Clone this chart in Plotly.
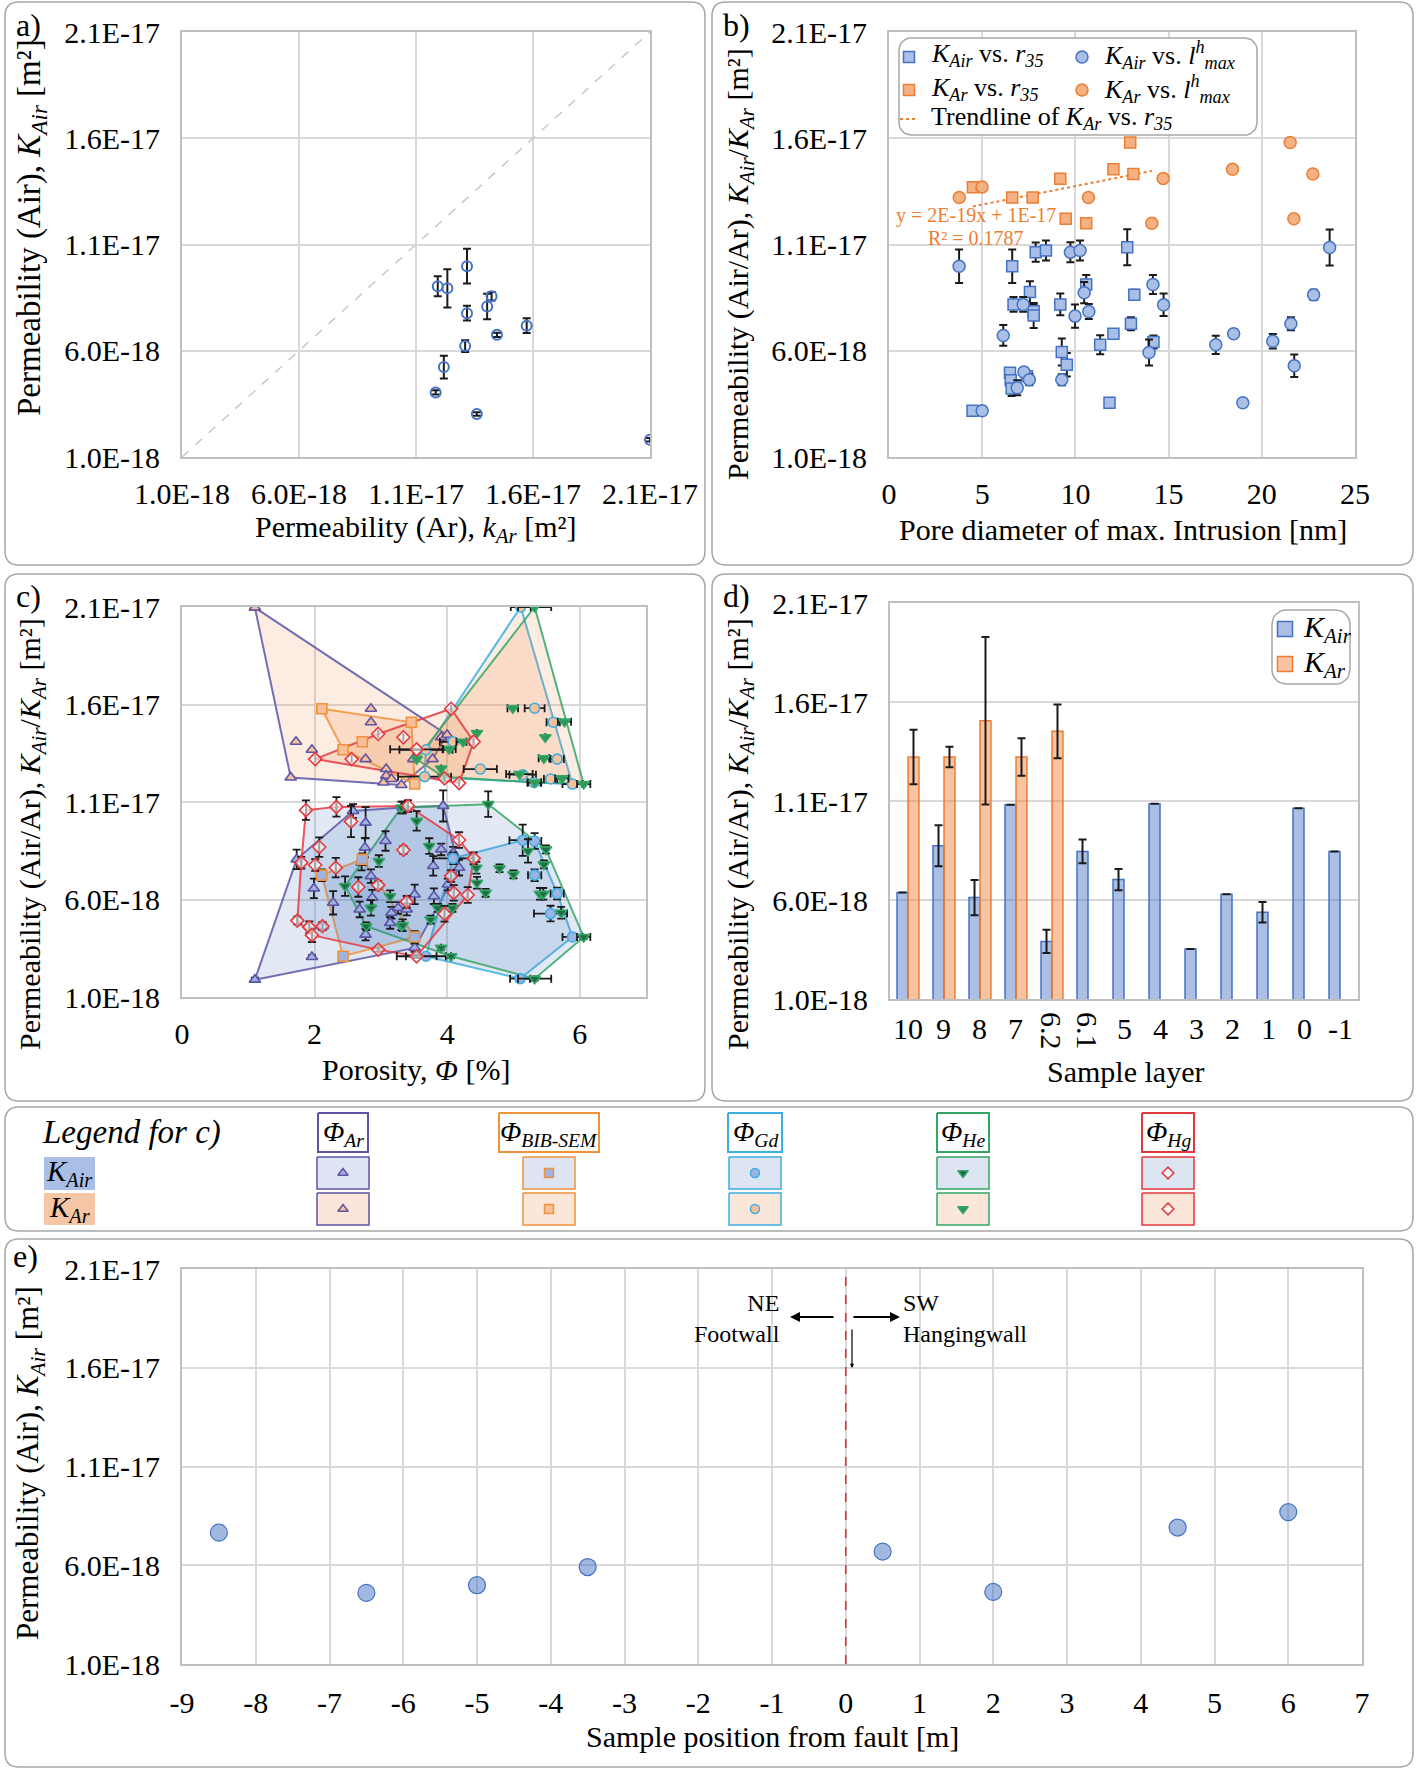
import numpy as np
import plotly.graph_objects as go

W, H = 1416, 1770
SERIF = "Liberation Serif"
BLUE = "#4472C4"
ORANGE = "#ED7D31"
BLUE_FILL = "#A9BFE5"
ORANGE_FILL = "#F4B183"
GRID = "#D9D9D9"
FRAME = "#BFBFBF"
ERRC = "#1A1A1A"
TICK = 30

# ---------------- DATA (permeability values in units of 1E-18 m²) ----------------
Y_TICKS = [1, 6, 11, 16, 21]
Y_TICKTEXT = ["1.0E-18", "6.0E-18", "1.1E-17", "1.6E-17", "2.1E-17"]

# a) K_Air vs k_Ar
a_kar = [11.93, 12.34, 13.18, 13.18, 14.04, 14.23, 14.46, 15.73, 13.10, 12.19, 11.84, 13.60, 21.0]
a_kair = [9.03, 8.94, 9.98, 7.77, 8.08, 8.56, 6.75, 7.18, 6.22, 5.23, 4.04, 3.02, 1.81]
a_err = [0.47, 0.90, 0.82, 0.35, 0.60, 0.20, 0.10, 0.35, 0.28, 0.54, 0.10, 0.08, 0.08]

# b) permeability vs pore diameter
b_air_r35_x = [6.61, 7.87, 8.42, 12.78, 7.56, 10.58, 6.68, 7.76, 7.76, 9.19, 12.98, 13.16, 12.04,
               11.33, 9.27, 9.54, 6.49, 6.53, 6.58, 7.40, 4.48, 11.83, 14.19]
b_air_r35_y = [9.98, 10.64, 10.72, 10.87, 8.76, 9.12, 8.18, 7.86, 7.66, 8.18, 7.27, 8.63, 6.80,
               6.28, 5.94, 5.34, 4.97, 4.61, 4.22, 4.80, 3.18, 3.55, 6.41]
b_air_r35_err = [0.79, 0.45, 0.47, 0.85, 0.51, 0.45, 0.35, 0.30, 0.59, 0.51, 0.31, 0.24, 0.10,
                 0.45, 0.64, 0.55, 0.20, 0.20, 0.35, 0.20, 0.10, 0.10, 0.31]
b_air_lmax_x = [3.76, 9.73, 10.25, 10.47, 7.20, 9.98, 10.72, 6.13, 9.27, 6.88, 7.24, 7.53, 5.00,
                14.16, 14.73, 13.95, 17.53, 18.49, 18.98, 20.59, 21.56, 21.74, 22.78, 23.64]
b_air_lmax_y = [9.98, 10.64, 10.72, 8.73, 8.18, 7.63, 7.85, 6.72, 4.64, 4.26, 5.00, 4.64, 3.18,
                9.12, 8.16, 5.92, 6.28, 6.80, 3.55, 6.45, 7.27, 5.29, 8.63, 10.86]
b_air_lmax_err = [0.79, 0.47, 0.47, 0.50, 0.35, 0.55, 0.35, 0.49, 0.26, 0.35, 0.20, 0.26, 0.10,
                  0.45, 0.53, 0.61, 0.43, 0.20, 0.10, 0.34, 0.31, 0.53, 0.24, 0.85]
b_ar_r35_x = [4.50, 6.61, 7.71, 9.19, 9.48, 10.58, 12.04, 12.94, 13.11]
b_ar_r35_y = [13.69, 13.21, 13.21, 14.09, 12.21, 12.00, 14.54, 15.80, 14.32]
b_ar_lmax_x = [3.77, 4.99, 10.70, 14.10, 14.71, 18.43, 21.52, 21.72, 22.74]
b_ar_lmax_y = [13.21, 13.71, 13.21, 12.00, 14.11, 14.54, 15.80, 12.21, 14.32]

# c) permeability vs porosity, per porosity method
c_ar_air_phi = [1.10, 1.96, 1.73, 1.99, 2.12, 2.28, 2.58, 2.77, 2.76, 2.71, 2.85, 2.68, 2.87, 2.77, 3.07,
                3.16, 3.14, 3.26, 3.39, 3.33, 3.51, 3.51, 3.94, 3.91, 3.79, 4.18, 4.09, 3.80, 4.01]
c_ar_air_k = [1.89, 3.05, 8.06, 6.57, 4.63, 5.83, 10.54, 9.94, 8.66, 7.89, 7.20, 5.49, 6.09, 4.20, 9.00,
              5.32, 4.80, 5.57, 5.49, 10.72, 6.26, 3.52, 10.80, 8.57, 7.72, 7.63, 8.40, 6.17, 6.77]
c_ar_air_err = [0.10, 0.10, 0.50, 0.50, 0.20, 0.60, 0.35, 0.80, 0.50, 0.40, 0.35, 0.40, 0.40, 0.30, 0.50,
                0.30, 0.30, 0.30, 0.30, 0.30, 0.50, 0.20, 0.80, 0.30, 0.50, 0.40, 0.30, 0.40, 0.30]
c_ar_ar_phi = [1.10, 2.85, 2.85, 1.72, 1.96, 1.64, 2.77, 3.08, 3.08, 3.04, 3.16, 3.31, 3.49, 3.91, 4.00, 3.78]
c_ar_ar_k = [20.97, 15.78, 15.09, 14.09, 13.68, 12.26, 13.20, 12.69, 12.35, 12.00, 12.18, 11.87, 13.20,
             14.32, 14.44, 13.20]

c_bib_air_phi = [2.11, 2.72, 2.43, 3.51]
c_bib_air_k = [7.25, 8.06, 3.09, 4.08]
c_bib_air_err = [0.30, 0.30, 0.10, 0.30]
c_bib_ar_phi = [2.11, 3.46, 2.72, 2.43, 3.51]
c_bib_ar_k = [15.78, 15.09, 14.09, 13.68, 11.92]

c_gd_air_phi = [5.14, 5.32, 4.09, 5.32, 5.66, 5.56, 5.89, 5.10, 3.68]
c_gd_air_k = [9.04, 9.00, 8.11, 7.25, 6.31, 5.28, 4.08, 1.94, 3.09]
c_gd_air_err = [0.80, 0.40, 0.30, 0.30, 0.30, 0.40, 0.10, 0.10, 0.10]
c_gd_air_xerr = [0.20, 0.10, 0.30, 0.10, 0.10, 0.25, 0.15, 0.15, 0.30]
c_gd_ar_phi = [5.11, 5.32, 5.60, 5.66, 4.50, 5.14, 5.31, 5.56, 5.89, 3.68, 3.66, 4.09]
c_gd_ar_k = [21.0, 15.81, 15.09, 13.20, 12.69, 12.40, 12.00, 12.18, 11.92, 13.68, 12.30, 14.09]
c_gd_ar_xerr = [0.15, 0.15, 0.10, 0.10, 0.25, 0.20, 0.10, 0.10, 0.15, 0.40, 0.40, 0.20]

c_he_air_phi = [4.62, 3.54, 3.73, 4.44, 4.45, 4.58, 4.79, 5.00, 5.22, 5.49, 5.46, 5.40, 5.45, 5.72, 6.06,
                5.32, 4.06, 3.91, 3.75, 3.86, 4.08, 3.31, 2.46, 2.78, 2.85, 2.97, 3.14, 3.33, 3.31]
c_he_air_k = [10.89, 10.03, 8.74, 7.63, 6.86, 6.34, 7.60, 7.29, 8.49, 8.57, 7.80, 6.29, 6.29, 5.32, 4.08,
              1.94, 3.09, 3.52, 4.97, 5.57, 5.57, 4.63, 6.69, 4.63, 5.57, 7.97, 6.17, 4.68, 10.72]
c_he_air_err = [0.65, 0.50, 0.40, 0.30, 0.30, 0.20, 0.20, 0.20, 0.60, 0.20, 0.20, 0.30, 0.30, 0.30, 0.10,
                0.10, 0.10, 0.10, 0.20, 0.20, 0.20, 0.20, 0.50, 0.20, 0.40, 0.30, 0.30, 0.30, 0.30]
c_he_air_xerr = [0, 0, 0, 0, 0, 0, 0, 0, 0, 0, 0, 0, 0, 0, 0.10,
                 0.25, 0, 0, 0, 0, 0, 0, 0, 0, 0, 0, 0, 0, 0]
c_he_ar_phi = [5.32, 4.99, 5.77, 5.48, 5.46, 4.45, 4.24, 4.03, 3.91, 3.94, 5.09, 5.32, 5.73, 6.06, 3.54]
c_he_ar_k = [21.0, 15.81, 15.12, 14.32, 13.24, 14.54, 14.09, 13.72, 12.72, 12.30, 12.43, 12.00, 12.21, 11.92, 13.20]
c_he_ar_xerr = [0.25, 0.08, 0.10, 0, 0.08, 0, 0.10, 0.10, 0, 0, 0.20, 0.10, 0.10, 0.10, 0]

c_hg_air_phi = [1.87, 2.33, 2.55, 2.07, 1.80, 2.01, 2.32, 2.66, 2.96, 3.34, 1.74, 1.92, 1.96, 2.12, 2.96,
                3.41, 3.39, 4.18, 4.40, 4.06, 4.10, 4.31, 3.96, 3.54]
c_hg_air_k = [10.58, 10.75, 10.00, 8.69, 7.89, 7.77, 7.63, 6.64, 6.74, 8.54, 4.92, 4.58, 4.17, 4.63, 3.43,
              10.80, 5.88, 9.05, 8.11, 7.20, 6.34, 6.23, 5.27, 3.09]
c_hg_air_err = [0.50, 0.50, 0.80, 0.50, 0.30, 0.30, 0.50, 0.50, 0.20, 0.20, 0.20, 0.30, 0.35, 0.20, 0.10,
                0.30, 0.30, 0.40, 0.30, 0.30, 0.40, 0.40, 0.40, 0.10]
c_hg_air_xerr = [0] * 23 + [0.30]
c_hg_ar_phi = [2.96, 3.34, 2.01, 2.56, 3.54, 4.06, 4.40, 3.96, 4.18]
c_hg_ar_k = [14.49, 14.32, 13.20, 13.20, 13.70, 15.78, 14.09, 12.21, 11.97]
c_hg_ar_xerr = [0, 0, 0, 0, 0.40, 0, 0, 0, 0]

# d) per sample layer
d_layers = ["10", "9", "8", "7", "6.2", "6.1", "5", "4", "3", "2", "1", "0", "-1"]
d_kair = [6.38, 8.74, 6.12, 10.81, 3.91, 8.45, 7.03, 10.86, 3.53, 6.29, 5.38, 10.64, 8.45]
d_kair_err = [None, 1.03, 0.89, None, 0.59, 0.60, 0.54, None, None, None, 0.52, None, None]
d_kar = [13.22, 13.22, 15.05, 13.22, 14.52, None, None, None, None, None, None, None, None]
d_kar_err = [1.38, 0.52, 4.23, 0.95, 1.36, None, None, None, None, None, None, None, None]

# e) K_Air vs position from fault
e_pos = [-8.5, -6.5, -5.0, -3.5, 0.5, 2.0, 4.5, 6.0]
e_kair = [7.65, 4.60, 4.99, 5.91, 6.69, 4.65, 7.91, 8.69]
e_xticks = list(range(-9, 8))


# ---------------- helpers ----------------
def PX(x):
    return x / W


def PY(y):
    return 1 - y / H


def font(size, color="black", fam=SERIF):
    return dict(family=fam, size=size, color=color)


def y_axis(top, bottom, anchor):
    return dict(domain=[PY(bottom), PY(top)], anchor=anchor, range=[1, 21], tickvals=Y_TICKS,
                ticktext=Y_TICKTEXT, showgrid=True, gridcolor=GRID, gridwidth=2, showline=True,
                mirror=True, linecolor=FRAME, linewidth=2, ticks="", zeroline=False, automargin=False,
                tickfont=font(TICK), ticklabelstandoff=14, fixedrange=True)


def x_axis(left, right, anchor, **kw):
    d = dict(domain=[PX(left), PX(right)], anchor=anchor, showgrid=True, gridcolor=GRID, gridwidth=2,
             showline=True, mirror=True, linecolor=FRAME, linewidth=2, ticks="", zeroline=False,
             automargin=False, tickfont=font(TICK), ticklabelstandoff=9, fixedrange=True)
    d.update(kw)
    return d


def convex_hull(xs, ys):
    pts = sorted(set(zip(xs, ys)))
    if len(pts) < 3:
        return pts

    def cross(o, a, b):
        return (a[0] - o[0]) * (b[1] - o[1]) - (a[1] - o[1]) * (b[0] - o[0])

    lower, upper = [], []
    for p in pts:
        while len(lower) >= 2 and cross(lower[-2], lower[-1], p) <= 0:
            lower.pop()
        lower.append(p)
    for p in reversed(pts):
        while len(upper) >= 2 and cross(upper[-2], upper[-1], p) <= 0:
            upper.pop()
        upper.append(p)
    return lower[:-1] + upper[:-1]


def rpath(x0, y0, x1, y1, r):
    def P(x, y):
        return f"{PX(x):.5f},{PY(y):.5f}"
    return (f"M{P(x0 + r, y0)} L{P(x1 - r, y0)} Q{P(x1, y0)} {P(x1, y0 + r)} "
            f"L{P(x1, y1 - r)} Q{P(x1, y1)} {P(x1 - r, y1)} L{P(x0 + r, y1)} "
            f"Q{P(x0, y1)} {P(x0, y1 - r)} L{P(x0, y0 + r)} Q{P(x0, y0)} {P(x0 + r, y0)} Z")


def rrect_xy(x0, y0, x1, y1, r, n=8):
    xs, ys = [], []
    corners = [(x1 - r, y0 + r, -90, 0), (x1 - r, y1 - r, 0, 90), (x0 + r, y1 - r, 90, 180), (x0 + r, y0 + r, 180, 270)]
    for cx, cy, a0, a1 in corners:
        for t in np.linspace(np.radians(a0), np.radians(a1), n):
            xs.append(cx + r * np.cos(t))
            ys.append(cy + r * np.sin(t))
    xs.append(xs[0])
    ys.append(ys[0])
    return xs, ys


fig = go.Figure()
annotations = []
shapes = []


def ann(text, x, y, size=29, angle=0, xanchor="center", yanchor="middle", color="black", align="center"):
    annotations.append(dict(text=text, x=PX(x), y=PY(y), xref="paper", yref="paper", showarrow=False,
                            textangle=angle, xanchor=xanchor, yanchor=yanchor, font=font(size, color),
                            align=align))


ERR = dict(type="data", color=ERRC, thickness=2, width=4)

# ---------------- panel a ----------------
fig.add_trace(go.Scatter(x=[1, 21], y=[1, 21], mode="lines", xaxis="x", yaxis="y",
                         line=dict(color="#C8C8C8", width=1.5, dash="dash"), hoverinfo="skip"))
fig.add_trace(go.Scatter(x=a_kar, y=a_kair, mode="markers", xaxis="x", yaxis="y",
                         error_y=dict(ERR, array=a_err),
                         marker=dict(symbol="circle-open", size=10, color=BLUE, line=dict(width=2))))

# ---------------- panel b ----------------
coef = np.polyfit(b_ar_r35_x, b_ar_r35_y, 1)
tx = np.array([min(b_ar_r35_x), max(b_ar_r35_x) + 1.0])
fig.add_trace(go.Scatter(x=tx, y=np.polyval(coef, tx), mode="lines", xaxis="x2", yaxis="y2",
                         line=dict(color=ORANGE, width=2, dash="dot")))
fig.add_trace(go.Scatter(x=b_ar_r35_x, y=b_ar_r35_y, mode="markers", xaxis="x2", yaxis="y2",
                         marker=dict(symbol="square", size=11, color=ORANGE_FILL, line=dict(color=ORANGE, width=1.5))))
fig.add_trace(go.Scatter(x=b_ar_lmax_x, y=b_ar_lmax_y, mode="markers", xaxis="x2", yaxis="y2",
                         marker=dict(symbol="circle", size=12, color=ORANGE_FILL, line=dict(color=ORANGE, width=1.5))))
fig.add_trace(go.Scatter(x=b_air_r35_x, y=b_air_r35_y, mode="markers", xaxis="x2", yaxis="y2",
                         error_y=dict(ERR, array=b_air_r35_err),
                         marker=dict(symbol="square", size=11, color=BLUE_FILL, line=dict(color=BLUE, width=1.5))))
fig.add_trace(go.Scatter(x=b_air_lmax_x, y=b_air_lmax_y, mode="markers", xaxis="x2", yaxis="y2",
                         error_y=dict(ERR, array=b_air_lmax_err),
                         marker=dict(symbol="circle", size=12, color=BLUE_FILL, line=dict(color=BLUE, width=1.5))))

# ---------------- panel c ----------------
AR_C, BIB_C, GD_C, HE_C, HG_C = "#5E54A6", "#F0923A", "#3BAEE3", "#35A565", "#E3393E"
AIR_POLY = "rgba(68,114,196,0.18)"
AR_POLY = "rgba(237,125,49,0.17)"

series_c = [
    # phi, k, yerr, xerr, symbol, edge, fill, polyfill
    (c_ar_ar_phi, c_ar_ar_k, None, None, "triangle-up", AR_C, "#F6C09A", AR_POLY),
    (c_bib_ar_phi, c_bib_ar_k, None, None, "square", BIB_C, "#F6C09A", AR_POLY),
    (c_gd_ar_phi, c_gd_ar_k, None, c_gd_ar_xerr, "circle", GD_C, "#F6C09A", AR_POLY),
    (c_he_ar_phi, c_he_ar_k, None, c_he_ar_xerr, "triangle-down", HE_C, "#2C9A5A", AR_POLY),
    (c_hg_ar_phi, c_hg_ar_k, None, c_hg_ar_xerr, "diamond", HG_C, "rgba(255,255,255,0.6)", AR_POLY),
    (c_ar_air_phi, c_ar_air_k, c_ar_air_err, None, "triangle-up", AR_C, "#9DB3E0", AIR_POLY),
    (c_bib_air_phi, c_bib_air_k, c_bib_air_err, None, "square", BIB_C, "#9DB3E0", AIR_POLY),
    (c_gd_air_phi, c_gd_air_k, c_gd_air_err, c_gd_air_xerr, "circle", GD_C, "#9DB3E0", AIR_POLY),
    (c_he_air_phi, c_he_air_k, c_he_air_err, c_he_air_xerr, "triangle-down", HE_C, "#1B6E43", AIR_POLY),
    (c_hg_air_phi, c_hg_air_k, c_hg_air_err, c_hg_air_xerr, "diamond", HG_C, "rgba(255,255,255,0.6)", AIR_POLY),
]

for phi, k, ye, xe, sym, edge, fill, pfill in series_c:
    hull = convex_hull(phi, k)
    hx = [p[0] for p in hull] + [hull[0][0]]
    hy = [p[1] for p in hull] + [hull[0][1]]
    fig.add_trace(go.Scatter(x=hx, y=hy, mode="lines", fill="toself", fillcolor=pfill, xaxis="x3", yaxis="y3",
                             line=dict(color=edge, width=2), opacity=0.85, hoverinfo="skip"))

for phi, k, ye, xe, sym, edge, fill, pfill in series_c:
    kw = {}
    if ye is not None:
        kw["error_y"] = dict(ERR, array=ye, thickness=1.8)
    if xe is not None:
        kw["error_x"] = dict(ERR, array=xe, thickness=1.8)
    fig.add_trace(go.Scatter(x=phi, y=k, mode="markers", xaxis="x3", yaxis="y3",
                             marker=dict(symbol=sym, size=10, color=fill, line=dict(color=edge, width=1.6)), **kw))

# ---------------- panel d ----------------
fig.add_trace(go.Bar(x=d_layers, y=d_kair, xaxis="x4", yaxis="y4",
                     marker=dict(color="rgba(68,114,196,0.45)", line=dict(color=BLUE, width=1.5)),
                     error_y=dict(ERR, array=d_kair_err)))
fig.add_trace(go.Bar(x=d_layers, y=d_kar, xaxis="x4", yaxis="y4",
                     marker=dict(color="rgba(237,125,49,0.45)", line=dict(color=ORANGE, width=1.5)),
                     error_y=dict(ERR, array=d_kar_err)))

# ---------------- panel e ----------------
fig.add_trace(go.Scatter(x=e_pos, y=e_kair, mode="markers", xaxis="x5", yaxis="y5",
                         marker=dict(symbol="circle", size=17, color="rgba(68,114,196,0.5)",
                                     line=dict(color=BLUE, width=1.2))))
shapes.append(dict(type="line", xref="x5", yref="y5 domain", x0=0, x1=0, y0=0, y1=1,
                   line=dict(color="#E03030", width=1.6, dash="dash")))


# ---------------- legend boxes and keys (overlay pixel axis x6/y6) ----------------
def box(x0, y0, x1, y1, r, fill, edge, width=1.5):
    if r > 0:
        xs, ys = rrect_xy(x0, y0, x1, y1, r)
    else:
        xs, ys = [x0, x1, x1, x0, x0], [y0, y0, y1, y1, y0]
    fig.add_trace(go.Scatter(x=xs, y=ys, mode="lines", fill="toself", fillcolor=fill, xaxis="x6", yaxis="y6",
                             line=dict(color=edge, width=width), hoverinfo="skip"))


def key(x, y, sym, size, fill, edge, width=1.5):
    fig.add_trace(go.Scatter(x=[x], y=[y], mode="markers", xaxis="x6", yaxis="y6", hoverinfo="skip",
                             marker=dict(symbol=sym, size=size, color=fill, line=dict(color=edge, width=width))))


# legend b
box(899, 38, 1257, 135, 12, "white", "#A6A6A6")
key(909, 57, "square", 11, BLUE_FILL, BLUE)
key(909, 90, "square", 11, ORANGE_FILL, ORANGE)
key(1082, 57, "circle", 12, BLUE_FILL, BLUE)
key(1082, 90, "circle", 12, ORANGE_FILL, ORANGE)
fig.add_trace(go.Scatter(x=[900, 917], y=[119, 119], mode="lines", xaxis="x6", yaxis="y6",
                         line=dict(color=ORANGE, width=2, dash="dot"), hoverinfo="skip"))
ann("<i>K<sub>Air</sub></i> vs. <i>r<sub>35</sub></i>", 929, 55, 26, xanchor="left")
ann("<i>K<sub>Ar</sub></i> vs. <i>r<sub>35</sub></i>", 929, 89, 26, xanchor="left")
ann("Trendline of <i>K<sub>Ar</sub></i> vs. <i>r<sub>35</sub></i>", 929, 118, 26, xanchor="left")
ann("<i>K<sub>Air</sub></i> vs. <i>l<sup>h</sup><sub>max</sub></i>", 1102, 55, 26, xanchor="left")
ann("<i>K<sub>Ar</sub></i> vs. <i>l<sup>h</sup><sub>max</sub></i>", 1102, 89, 26, xanchor="left")
ann("y = 2E-19x + 1E-17", 976, 216, 20, color=ORANGE)
ann("R² = 0.1787", 976, 238, 20, color=ORANGE)

# legend d
box(1272, 610, 1350, 684, 14, "white", "#A6A6A6")
key(1285, 629, "square", 15, "rgba(68,114,196,0.45)", BLUE)
key(1285, 664, "square", 15, "rgba(237,125,49,0.45)", ORANGE)
ann("<i>K<sub>Air</sub></i>", 1301, 629, 30, xanchor="left")
ann("<i>K<sub>Ar</sub></i>", 1301, 664, 30, xanchor="left")

# legend for c (separate row)
ann("<i>Legend for c)</i>", 40, 1132, 33, xanchor="left")
heads = [("Ar", AR_C, 343, 50), ("BIB-SEM", BIB_C, 549, 100), ("Gd", GD_C, 755, 54),
         ("He", HE_C, 963, 52), ("Hg", HG_C, 1168, 52)]
head_sym = {"Ar": ("triangle-up", "#9DB3E0", "#F6C09A"), "BIB-SEM": ("square", "#9DB3E0", "#F6C09A"),
            "Gd": ("circle", "#9DB3E0", "#F6C09A"), "He": ("triangle-down", "#1B6E43", "#2C9A5A"),
            "Hg": ("diamond", "rgba(255,255,255,0.6)", "rgba(255,255,255,0.6)")}
box(44, 1157, 95, 1190, 0, "#A9BFE5", "rgba(0,0,0,0)", 0.1)
box(44, 1193, 95, 1225, 0, "#F5C6A5", "rgba(0,0,0,0)", 0.1)
ann("<i>K<sub>Air</sub></i>", 69, 1173, 29)
ann("<i>K<sub>Ar</sub></i>", 69, 1209, 29)
for name, col, cx, w in heads:
    box(cx - w / 2, 1113, cx + w / 2, 1152, 0, "white", col, 2)
    ann(f"<i>Φ<sub>{name}</sub></i>", cx, 1133, 28)
    box(cx - 26, 1157, cx + 26, 1189, 0, "#DDE5F3", col, 1.5)
    box(cx - 26, 1193, cx + 26, 1225, 0, "#FBE7DA", col, 1.5)
    sym, f_air, f_ar = head_sym[name]
    key(cx, 1173, sym, 9, f_air, col)
    key(cx, 1209, sym, 9, f_ar, col)

# ---------------- panel frames ----------------
for (x0, y0, x1, y1) in [(5, 2, 705, 565), (712, 2, 1413, 565), (5, 574, 705, 1101), (712, 574, 1413, 1101),
                         (5, 1107, 1413, 1231), (5, 1239, 1413, 1767)]:
    shapes.append(dict(type="path", xref="paper", yref="paper", path=rpath(x0, y0, x1, y1, 14),
                       line=dict(color="#A6A6A6", width=1.5), layer="below"))

# ---------------- panel labels & axis titles ----------------
for lab, x, y in [("a)", 28, 25), ("b)", 736, 25), ("c)", 28, 596), ("d)", 736, 596), ("e)", 25, 1256)]:
    ann(lab, x, y, 32)

YT_AIR = "Permeability (Air), <i>K<sub>Air</sub></i> [m²]"
YT_BOTH = "Permeability (Air/Ar), <i>K<sub>Air</sub></i>/<i>K<sub>Ar</sub></i> [m²]"
ann(YT_AIR, 32, 228, 33, angle=-90)
ann(YT_BOTH, 740, 264, 30, angle=-90)
ann(YT_BOTH, 32, 834, 30, angle=-90)
ann(YT_BOTH, 740, 834, 30, angle=-90)
ann(YT_AIR, 30, 1463, 31, angle=-90)

ann("Permeability (Ar), <i>k<sub>Ar</sub></i> [m²]", 416, 529, 30)
ann("Pore diameter of max. Intrusion [nm]", 1123, 529, 30)
ann("Porosity, <i>Φ</i> [%]", 416, 1069, 30)
ann("Sample layer", 1125, 1071, 30)
ann("Sample position from fault [m]", 772, 1736, 30)

# d category labels (6.2 and 6.1 are written vertically)
for i, lab in enumerate(d_layers):
    rot = 90 if "." in lab else 0
    annotations.append(dict(text=lab, x=i, y=0, xref="x4", yref="y4 domain", yshift=-11, showarrow=False,
                            textangle=rot, xanchor="center", yanchor="top", font=font(TICK)))

# e annotations
ann("NE<br>Footwall", 782, 1318, 24, xanchor="right", align="right")
ann("SW<br>Hangingwall", 901, 1318, 24, xanchor="left", align="left")
for (x0, x1) in [(835, 790), (852, 900)]:
    annotations.append(dict(x=PX(x1), y=PY(1317), ax=x0 - x1, ay=0, xref="paper", yref="paper",
                            axref="pixel", ayref="pixel", text="", showarrow=True, arrowhead=2, arrowsize=1,
                            arrowwidth=2, arrowcolor="black"))
annotations.append(dict(x=PX(852), y=PY(1368), ax=0, ay=-40, xref="paper", yref="paper",
                        axref="pixel", ayref="pixel", text="", showarrow=True, arrowhead=2, arrowsize=0.7,
                        arrowwidth=1.2, arrowcolor="black"))

# ---------------- layout ----------------
fig.update_layout(
    width=W, height=H, margin=dict(l=0, r=0, t=0, b=0, pad=0, autoexpand=False), paper_bgcolor="white",
    plot_bgcolor="rgba(0,0,0,0)", showlegend=False, font=font(29),
    barmode="group", bargap=0.39, bargroupgap=0,
    xaxis=x_axis(182, 650, "y", range=[1, 21], tickvals=Y_TICKS, ticktext=Y_TICKTEXT),
    yaxis=y_axis(32, 457, "x"),
    xaxis2=x_axis(889, 1355, "y2", range=[0, 25], tickvals=[0, 5, 10, 15, 20, 25]),
    yaxis2=y_axis(32, 457, "x2"),
    xaxis3=x_axis(182, 646, "y3", range=[0, 7], tickvals=[0, 2, 4, 6]),
    yaxis3=y_axis(607, 997, "x3"),
    xaxis4=x_axis(890, 1358, "y4", type="category", showgrid=False, showticklabels=False,
                  range=[-0.5, len(d_layers) - 0.5]),
    yaxis4=y_axis(603, 999, "x4"),
    xaxis5=x_axis(182, 1362, "y5", range=[-9, 7], tickvals=e_xticks, ticktext=[str(v) for v in e_xticks],
                  ticklabelstandoff=11),
    yaxis5=y_axis(1269, 1664, "x5"),
    xaxis6=dict(domain=[0, 1], range=[0, W], visible=False, fixedrange=True, anchor="y6", automargin=False),
    yaxis6=dict(domain=[0, 1], range=[H, 0], visible=False, fixedrange=True, anchor="x6", automargin=False),
    annotations=annotations, shapes=shapes,
)

fig.write_html("out.html", config={"displayModeBar": False},
               post_script="document.body.style.margin='0';document.body.style.overflow='hidden';")
